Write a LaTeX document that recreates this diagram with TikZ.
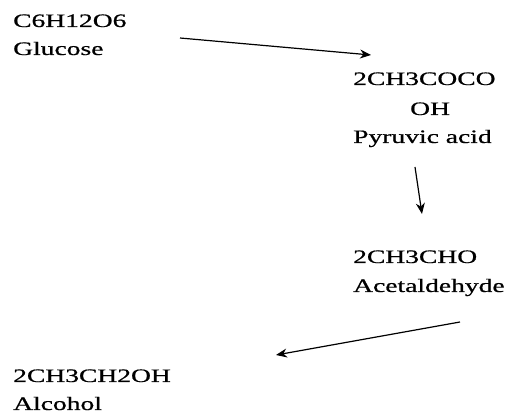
\documentclass[tikz,border=0pt]{standalone}
\usepackage{fontspec}
\setmainfont{Liberation Serif}
\newfontfamily\lblfont[FakeBold=0.6]{Liberation Serif}
\usetikzlibrary{arrows.meta}
\tikzset{
  lbl/.style={anchor=base west, inner sep=0pt, font=\lblfont\fontsize{19}{23}\selectfont},
  conn/.style={-{Stealth[length=11pt,width=9pt]}, line width=1.2pt, black}
}
\newcommand{\wide}[1]{\scalebox{1.45}[1]{#1}}
\begin{document}
\begin{tikzpicture}[x=1pt,y=-1pt]
\useasboundingbox (0,0) rectangle (507,414);
\node[lbl] (c6) at (13,27) {\wide{C6H12O6}};
\node[lbl] (glu) at (13,55) {\wide{Glucose}};
\node[lbl] (pyr1) at (353,85) {\wide{2CH3COCO}};
\node[lbl] (pyr2) at (410,115) {\wide{OH}};
\node[lbl] (pyr3) at (353,143) {\wide{Pyruvic acid}};
\node[lbl] (ace1) at (353,263) {\wide{2CH3CHO}};
\node[lbl] (ace2) at (353,292) {\wide{Acetaldehyde}};
\node[lbl] (alc1) at (13,382) {\wide{2CH3CH2OH}};
\node[lbl] (alc2) at (13,410) {\wide{Alcohol}};
\coordinate (a1s) at (180,38);
\coordinate (a1e) at (371,55);
\coordinate (a2s) at (415,167);
\coordinate (a2e) at (422,214);
\coordinate (a3s) at (460,322);
\coordinate (a3e) at (276,355);
\draw[conn] (a1s) -- (a1e);
\draw[conn] (a2s) -- (a2e);
\draw[conn] (a3s) -- (a3e);
\end{tikzpicture}
\end{document}
